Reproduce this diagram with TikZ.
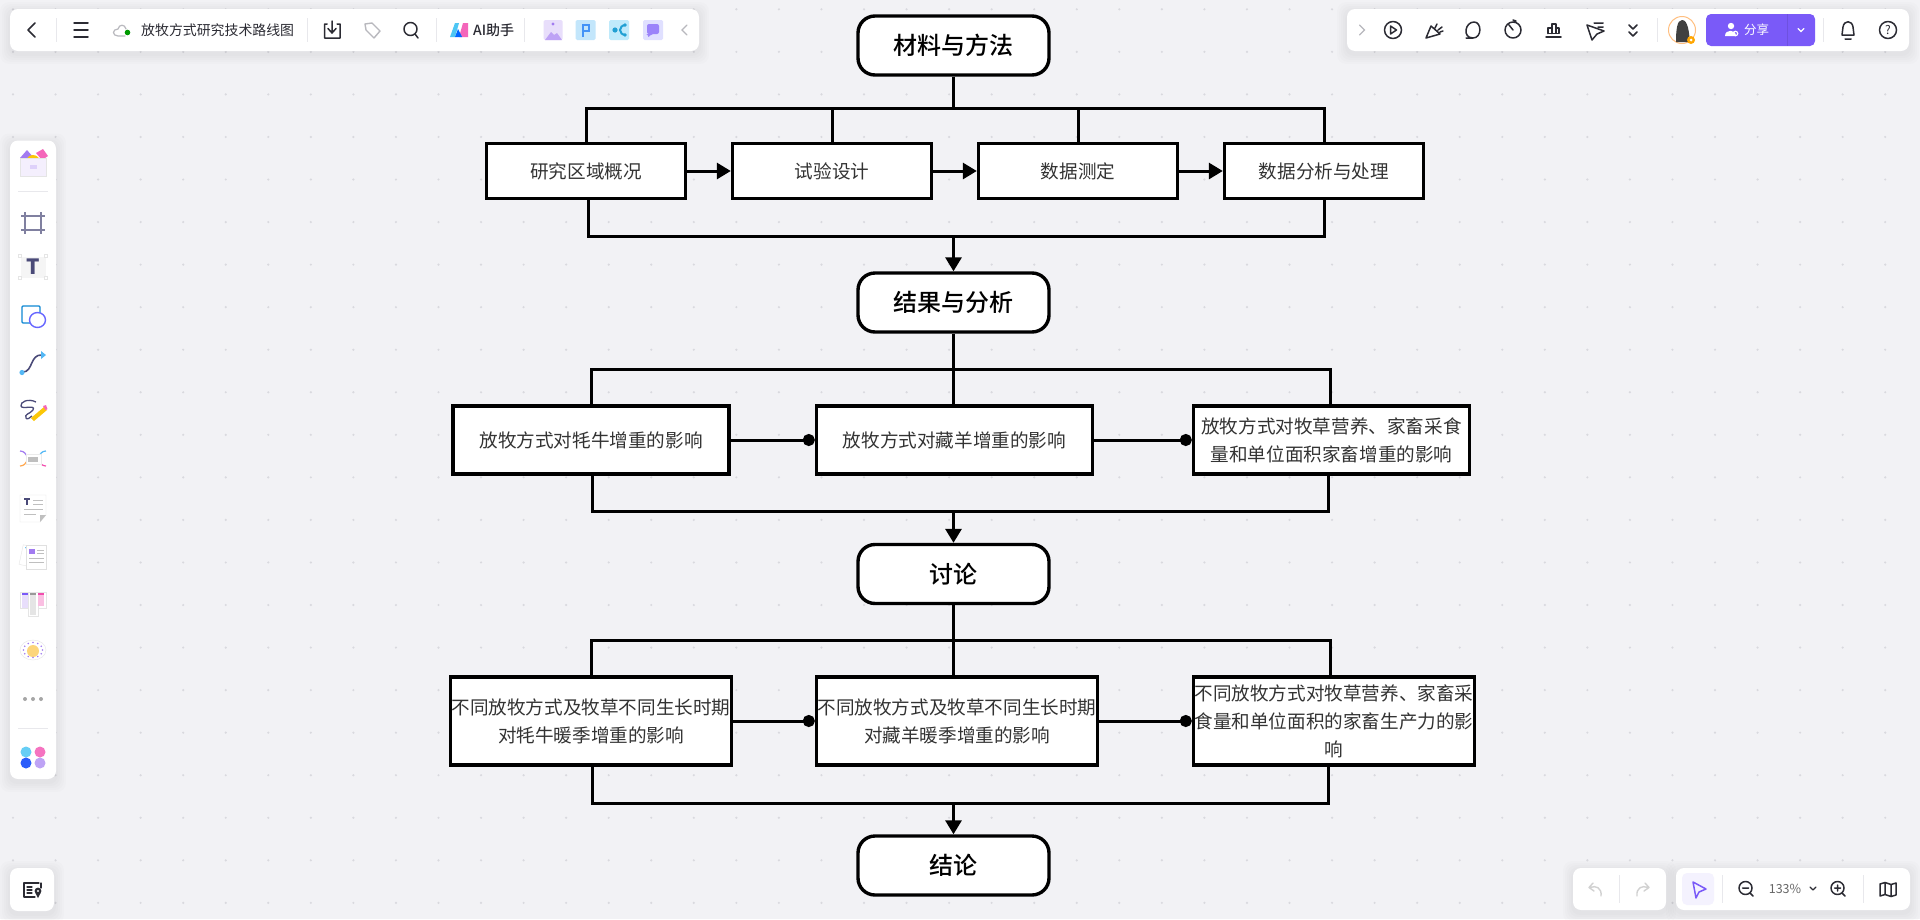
\documentclass[tikz,border=0pt]{standalone}
\usepackage{fontspec}
\setmainfont{Noto Sans CJK SC}
\newfontfamily\mediumfont{Noto Sans CJK SC Medium}
\usetikzlibrary{arrows.meta,calc}

\definecolor{canvasgray}{HTML}{F2F2F5}
\definecolor{griddot}{HTML}{D9D9DE}
\definecolor{boxtext}{HTML}{333333}
\definecolor{toolink}{HTML}{2B2B33}
\definecolor{toolgray}{HTML}{B8B8BD}
\definecolor{toolsep}{HTML}{E8E8EC}
\definecolor{sharepurple}{HTML}{7A5AF8}
\definecolor{softviolet}{HTML}{A27BF0}
\definecolor{framenavy}{HTML}{4A4A78}
\definecolor{skyblue}{HTML}{54B8F5}

\tikzset{
    titlebox/.style={draw=black, fill=white, line width=3.4pt, rounded corners=17pt, minimum width=191pt, minimum height=59pt, inner sep=0pt, font=\fontsize{24}{28}\mediumfont},
    stepbox/.style={draw=black, fill=white, line width=3.4pt, inner sep=0pt, align=center, text=boxtext, font=\fontsize{18.6}{28}\selectfont},
    link/.style={draw=black, line width=3pt},
    flowarrow/.style={link, -{Triangle[length=14pt,width=16pt]}},
    dotlink/.style={link, -{Circle[length=12pt,width=12pt]}},
    toolicon/.style={draw=toolink, line width=1.5pt, line cap=round, line join=round},
    toolline/.style={draw=toolsep, line width=1pt},
    toollabel/.style={inner sep=0pt, text=toolink},
}

% weiche Schatten und weisse Leiste
\newcommand{\toolpanel}[4]{
    \foreach \s in {10,8,6,4,2}
        \fill[black,opacity=0.012,rounded corners=9pt] (#1-\s,#2-\s+3) rectangle (#3+\s,#4+\s+3);
    \fill[white,rounded corners=8pt] (#1,#2) rectangle (#3,#4);
}

\begin{document}
\begin{tikzpicture}[x=1pt,y=-1pt]
    \useasboundingbox (0,0) rectangle (1920,919);
    \fill[canvasgray] (0,0) rectangle (1920,919);

    % Punktraster
    \foreach \i in {0,...,44}
        \foreach \j in {0,...,21}
            \fill[griddot] (13+42.55*\i,9.3+42.55*\j) circle (1.2);

    % Knoten
    \node[titlebox] (material) at (953.5,45.5) {\selectfont 材料与方法};
    \node[stepbox, minimum width=199pt, minimum height=54.5pt] (area) at (586,171) {研究区域概况};
    \node[stepbox, minimum width=199pt, minimum height=54.5pt] (design) at (832,171) {试验设计};
    \node[stepbox, minimum width=199pt, minimum height=54.5pt] (measure) at (1078,171) {数据测定};
    \node[stepbox, minimum width=199pt, minimum height=54.5pt] (analysis) at (1324,171) {数据分析与处理};

    \node[titlebox] (results) at (953.5,302.5) {\selectfont 结果与分析};
    \node[stepbox, minimum width=276pt, minimum height=68pt] (yak) at (591,440) {放牧方式对牦牛增重的影响};
    \node[stepbox, minimum width=276pt, minimum height=68pt] (sheep) at (954.5,440) {放牧方式对藏羊增重的影响};
    \node[stepbox, minimum width=276pt, minimum height=68pt] (forage) at (1331.5,440) {放牧方式对牧草营养、家畜采食\\量和单位面积家畜增重的影响};

    \node[titlebox] (discussion) at (953.5,574) {\selectfont 讨论};
    \node[stepbox, minimum width=281pt, minimum height=88pt] (yakwarm) at (591,721) {不同放牧方式及牧草不同生长时期\\对牦牛暖季增重的影响};
    \node[stepbox, minimum width=281pt, minimum height=88pt] (sheepwarm) at (957,721) {不同放牧方式及牧草不同生长时期\\对藏羊暖季增重的影响};
    \node[stepbox, minimum width=281pt, minimum height=88pt] (foragewarm) at (1334,721) {不同放牧方式对牧草营养、家畜采\\食量和单位面积的家畜生产力的影\\响};

    \node[titlebox] (conclusion) at (953.5,865.5) {\selectfont 结论};

    % Hilfspunkte der Sammelschienen
    \coordinate (busa) at (953.5,108);
    \coordinate (busb) at (953.5,236);
    \coordinate (busc) at (953.5,369);
    \coordinate (busd) at (953.5,511);
    \coordinate (buse) at (953.5,640);
    \coordinate (busf) at (953.5,803);

    % Erste Reihe
    \draw[link] (material) -- (busa);
    \draw[link] (area.north) |- (busa) -| (analysis.north);
    \draw[link] (design.north) -- (design.north |- busa);
    \draw[link] (measure.north) -- (measure.north |- busa);
    \draw[flowarrow] (area) -- (design);
    \draw[flowarrow] (design) -- (measure);
    \draw[flowarrow] (measure) -- (analysis);
    \draw[link] ([xshift=2pt]area.south) |- (busb) -| (analysis.south);
    \draw[flowarrow] (busb) -- (results);

    % Zweite Reihe
    \draw[link] (results) -- (busc);
    \draw[link] (yak.north) |- (busc) -| ([xshift=-1.5pt]forage.north);
    \draw[link] (sheep.north -| busc) -- (busc);
    \draw[dotlink] (yak) -- (sheep);
    \draw[dotlink] (sheep) -- (forage);
    \draw[link] ([xshift=1.5pt]yak.south) |- (busd) -| ([xshift=-3.5pt]forage.south);
    \draw[flowarrow] (busd) -- (discussion);

    % Dritte Reihe
    \draw[link] (discussion) -- (buse);
    \draw[link] (yakwarm.north) |- (buse) -| ([xshift=-4pt]foragewarm.north);
    \draw[link] (sheepwarm.north -| busc) -- (buse);
    \draw[dotlink] (yakwarm) -- (sheepwarm);
    \draw[dotlink] (sheepwarm) -- (foragewarm);
    \draw[link] ([xshift=1.5pt]yakwarm.south) |- (busf) -| ([xshift=-6pt]foragewarm.south);
    \draw[flowarrow] (busf) -- (conclusion);

    % Obere Leiste links
    \toolpanel{10}{9}{699}{51}
    \foreach \x in {56.5,307.5,436,524}
        \draw[toolline] (\x,18) -- (\x,42);
    \draw[toolicon] (35,23) -- (28,30) -- (35,37);
    \draw[toolicon] (74,23) -- (88,23) (74,30) -- (88,30) (74,37) -- (88,37);
    \draw[toolgray, line width=1.2pt, line cap=round] (125,36) -- (118,36) .. controls (112,36) and (112,29) .. (118,29) .. controls (119,24) and (125,24) .. (126,29);
    \fill[green!60!black] (127.5,32.5) circle (2.8);
    \node[toollabel, anchor=west, font=\fontsize{13.9}{16}\selectfont] (doctitle) at (141,30) {放牧方式研究技术路线图};
    \draw[toolicon] (327,24) -- (324.5,24) -- (324.5,38) -- (340,38) -- (340,24) -- (337,24) (332,21) -- (332,32) (328,28.5) -- (332,33) -- (336,28.5);
    \draw[toolgray, line width=1.4pt, line join=round] (365,24) -- (372,23) -- (380,31) -- (374,38) -- (366,30) -- cycle;
    \draw[toolicon] (410.5,29) circle (6.5) (415,34) -- (418,38);
    \fill[cyan!70!white] (450,37) -- (455,23) -- (459,23) -- (455,37) -- cycle;
    \fill[magenta!60!white] (459,37) -- (463,23) -- (468,23) -- (468,37) -- cycle;
    \fill[blue!60!cyan] (455,37) -- (458,29) -- (462,37) -- cycle;
    \node[toollabel, anchor=west, font=\fontsize{14}{16}\mediumfont] (aihelper) at (473,30) {\selectfont AI助手};
    \fill[softviolet!25!white, rounded corners=1.5pt] (543.5,20) rectangle (562.5,40);
    \fill[softviolet!70!white] (545,40) -- (551,32) -- (554,35) -- (557,33) -- (562,40) -- cycle;
    \fill[softviolet] (553,24) circle (1.6);
    \fill[skyblue!35!white, rounded corners=1.5pt] (575.5,20) rectangle (595.5,40);
    \draw[skyblue!80!blue, line width=2pt] (583,37) -- (583,25) -- (589,25) -- (589,31) -- (583,31);
    \fill[cyan!25!white, rounded corners=1.5pt] (609,20) rectangle (629,40);
    \draw[cyan!70!teal, line width=2pt] (626,25) .. controls (618,25) and (618,35) .. (626,35);
    \fill[cyan!70!teal] (615,30) circle (2.6) (625,25) circle (1.8) (625,35) circle (1.8);
    \fill[blue!12!white, rounded corners=1.5pt] (643,20) rectangle (663,40);
    \fill[sharepurple!75!white, rounded corners=2pt] (647,24) -- (659,24) -- (659,34) -- (651,34) -- (648,38) -- (648,34) -- (647,34) -- cycle;
    \draw[toolgray, line width=1.3pt, line cap=round] (687,25) -- (682,30) -- (687,35);

    % Obere Leiste rechts
    \toolpanel{1347}{9}{1909}{51}
    \draw[toolgray, line width=1.3pt, line cap=round] (1359.5,25) -- (1364.5,30) -- (1359.5,35);
    \draw[toolicon] (1393,30) circle (8.5) (1390.5,26) -- (1396.5,30) -- (1390.5,34) -- cycle;
    \draw[toolicon] (1426,38) -- (1431,26) -- (1440,34) -- cycle (1437,24) -- (1435,28) (1442,27) -- (1438,30) (1443,31) -- (1440,32);
    \draw[toolicon] (1473,38) .. controls (1462,38) and (1465,22) .. (1474,22) .. controls (1482,22) and (1482,38) .. (1473,38) -- (1466,38);
    \draw[toolicon] (1513,30) circle (8) (1513,30) -- (1509,25) (1513,20) -- (1516,21);
    \draw[toolicon] (1546,37) -- (1561,37) (1548,33.5) -- (1548,28) -- (1552,28) -- (1552,33.5) (1552,33.5) -- (1552,24) -- (1556,24) -- (1556,33.5) -- (1559,33.5) -- (1559,28) -- (1556,28) (1548,33.5) -- (1559,33.5);
    \draw[toolicon] (1587,25) -- (1604,31) -- (1597,34) -- (1592,40) -- cycle (1594,23) -- (1603,23) (1598,27) -- (1603,27);
    \draw[toolicon] (1629,25) -- (1633,29) -- (1637,25) (1629,32) -- (1633,36) -- (1637,32);
    \draw[toolline] (1657,18) -- (1657,42);
    \fill[white] (1682,30) circle (14);
    \draw[orange!50!white, line width=1pt] (1682,30) circle (13.5);
    \fill[black!75] (1676,42) .. controls (1676,30) and (1677,20) .. (1682,20) .. controls (1688,20) and (1689,32) .. (1690,42) -- cycle;
    \fill[orange!70!yellow] (1691,40) circle (4);
    \fill[white] (1691,40) circle (1.5);
    \fill[sharepurple, rounded corners=5pt] (1706,14) rectangle (1815,46);
    \draw[black!10!sharepurple, line width=0.7pt] (1787,14) -- (1787,46);
    \fill[white] (1731,26) circle (3.2) (1725,36) .. controls (1725,29) and (1736,29) .. (1736,36) -- cycle;
    \draw[white, line width=1.2pt] (1735.5,33.5) circle (2.2);
    \node[toollabel, text=white, anchor=west, font=\fontsize{12.5}{14}\selectfont] (sharetext) at (1744,30) {分享};
    \draw[white, line width=1.2pt, line cap=round] (1798,28.5) -- (1801,31.5) -- (1804,28.5);
    \draw[toolline] (1823,18) -- (1823,42);
    \draw[toolicon] (1842,35) -- (1843,27) .. controls (1844,20) and (1852,20) .. (1853,27) -- (1854,35) -- cycle (1845,39) -- (1851,39);
    \draw[toolicon] (1888,30) circle (8.5);
    \node[toollabel, font=\fontsize{12}{12}\selectfont] (helpmark) at (1888,30) {?};

    % Linke Leiste
    \toolpanel{10}{140.5}{56}{779}
    \draw[toolline] (18,191) -- (48,191);
    \fill[softviolet] (20,158) -- (27,150) -- (34,158) -- cycle;
    \fill[magenta!60!white] (36,153) -- (43,149) -- (48,156) -- (42,160) -- cycle;
    \fill[yellow!60!orange] (26,162) arc (180:360:7) -- cycle;
    \fill[softviolet!12!white, draw=black!10] (20,158) rectangle (46,176);
    \fill[softviolet!35!white] (30,165) rectangle (37,169);
    \draw[framenavy, line width=1.7pt] (25,216) rectangle (41,230);
    \draw[framenavy!70!white, line width=1.2pt] (21,216) -- (45,216) (21,230) -- (45,230) (25,212) -- (25,234) (41,212) -- (41,234);
    \fill[black!4, draw=white, line width=1pt] (20,256) rectangle (46,278);
    \fill[white, draw=black!10] (18.5,254.5) rectangle (21.5,257.5) (44.5,254.5) rectangle (47.5,257.5) (18.5,276.5) rectangle (21.5,279.5) (44.5,276.5) rectangle (47.5,279.5);
    \node[inner sep=0pt, text=framenavy, font=\fontsize{21}{21}\selectfont\bfseries] (texttool) at (33,267) {T};
    \draw[cyan!70!blue, line width=1.4pt, fill=white, rounded corners=1pt] (22,306) rectangle (40,323);
    \draw[blue!60!white, line width=1.4pt, fill=white] (37.5,320) ellipse (8 and 7.5);
    \draw[framenavy, line width=1.6pt] (23,372) .. controls (33,372) and (30,354) .. (42,355);
    \fill[skyblue] (22,372.5) circle (2.6);
    \fill[skyblue] (46,355) -- (41,351) -- (41,359) -- cycle;
    \draw[framenavy, line width=1.3pt] (36,402) .. controls (28,398) and (20,402) .. (21,406) .. controls (22,410) and (36,404) .. (33,410) .. controls (30,414) and (24,414) .. (26,418) .. controls (27,420) and (30,418) .. (32,416);
    \fill[yellow!60!orange] (31,418) -- (44,407) -- (47,410) -- (34,421) -- cycle;
    \fill[magenta!60!white] (43,406) -- (46,405) -- (47.5,409) -- (45.5,410) -- cycle;
    \draw[softviolet, line width=1.2pt] (20,451) .. controls (24,451) and (26,454) .. (27,456);
    \draw[skyblue, line width=1.2pt] (46,451) .. controls (42,451) and (40,454) .. (39,456);
    \draw[orange!70!white, line width=1.2pt] (20,466) .. controls (24,466) and (26,463) .. (27,461);
    \draw[magenta!70!white, line width=1.2pt] (46,466) .. controls (42,466) and (40,463) .. (39,461);
    \fill[white, draw=black!8] (26,454) rectangle (41,464);
    \fill[black!25] (28,456.5) rectangle (38,461.5);
    \fill[white, draw=black!12] (20,495) -- (46,495) -- (46,515) -- (40,522) -- (20,522) -- cycle;
    \fill[black!25] (40,522) -- (40,515) -- (46,515) -- cycle;
    \draw[framenavy, line width=1.3pt] (24,499) -- (30,499) (27,499) -- (27,505);
    \draw[black!25, line width=0.8pt] (33,500) -- (43,500) (33,504) -- (43,504) (24,509) -- (43,509) (24,514) -- (36,514);
    \fill[white, draw=black!10, rotate around={-12:(28,556)}] (21,546) rectangle (36,566);
    \fill[skyblue] (25,547) -- (31,547) -- (28,552) -- cycle;
    \fill[white, draw=black!12] (26,545) rectangle (46,569);
    \fill[softviolet] (29,549) rectangle (35,554);
    \draw[black!25, line width=0.8pt] (37,550) -- (44,550) (37,553) -- (44,553) (29,558) -- (44,558) (29,562) -- (44,562);
    \fill[white, draw=black!10] (20,592) rectangle (46,608);
    \fill[white, draw=black!10] (28,592) rectangle (38,616);
    \fill[sharepurple] (22,593) rectangle (28,595);
    \fill[black!40] (30,593) rectangle (36,595);
    \fill[magenta!70!white] (38,593) rectangle (44,595);
    \fill[softviolet!25!white] (22,595) rectangle (28,608);
    \fill[black!10] (30,595) rectangle (36,615);
    \fill[magenta!25!white] (38,595) rectangle (44,606);
    \fill[white, draw=black!10] (33,650) ellipse (13 and 10);
    \fill[yellow!40!orange!50!white] (33,651) circle (6);
    \foreach \a in {0,30,...,330}
        \fill[softviolet] ($(33,650)+(\a:9.5 and 7.5)$) circle (0.9);
    \foreach \y in {699}
        \fill[black!35] (25,\y) circle (2) (33,\y) circle (2) (41,\y) circle (2);
    \draw[toolline] (18,728.5) -- (48,728.5);
    \fill[cyan!60!white] (26,752) circle (5.5);
    \fill[magenta!55!white] (40,752) circle (5.5);
    \fill[blue!50!skyblue] (26,763) circle (5.5);
    \fill[softviolet!70!white] (40,763) circle (5.5);

    % Unten links
    \toolpanel{10}{868}{54}{911}
    \draw[toolicon, line width=1.2pt] (39,883) -- (24,883) -- (24,897) -- (35,897) (41,883) -- (41,888);
    \draw[toolicon, line width=1.1pt] (27,887) -- (32,887) (27,890) -- (32,890) (27,893) -- (32,893);
    \fill[toolink] (38,891) circle (3.4);
    \fill[toolink] (35.5,893) -- (40.5,893) -- (38,898) -- cycle;
    \fill[white] (38,891) circle (1.2);

    % Unten rechts
    \toolpanel{1573}{868}{1666}{910}
    \toolpanel{1676}{868}{1910}{910}
    \draw[toolline] (1619,875) -- (1619,903);
    \draw[black!18, line width=1.4pt, line cap=round, line join=round] (1593,883) -- (1589,887.5) -- (1594,891) (1590,887.5) .. controls (1596,885) and (1602,888) .. (1601,896);
    \draw[black!18, line width=1.4pt, line cap=round, line join=round] (1645,883) -- (1649,887.5) -- (1644,891) (1648,887.5) .. controls (1642,885) and (1636,888) .. (1637,896);
    \fill[sharepurple!8!white, rounded corners=5pt] (1682,873) rectangle (1714,905);
    \draw[sharepurple, line width=1.5pt, line join=round] (1693,882) -- (1706,889) -- (1699,892) -- (1696,898) -- cycle;
    \draw[toolline] (1722,875) -- (1722,903);
    \draw[toolicon] (1745.5,888) circle (6.5) (1742.5,888) -- (1748.5,888) (1750,893) -- (1753,896);
    \node[toollabel, text=black!60, font=\fontsize{12.5}{14}\selectfont] (zoomvalue) at (1785,889) {133\%};
    \draw[toolicon, line width=1.2pt] (1810,887) -- (1813,890) -- (1816,887);
    \draw[toolicon] (1837.5,888) circle (6.5) (1834.5,888) -- (1840.5,888) (1837.5,885) -- (1837.5,891) (1842,893) -- (1845,896);
    \draw[toolline] (1863,875) -- (1863,903);
    \draw[toolicon] (1880,884) -- (1885,882.5) -- (1891,884.5) -- (1896,883) -- (1896,895) -- (1891,896.5) -- (1885,894.5) -- (1880,896) -- cycle (1885,882.5) -- (1885,894.5) (1891,884.5) -- (1891,896.5);
\end{tikzpicture}
\end{document}
